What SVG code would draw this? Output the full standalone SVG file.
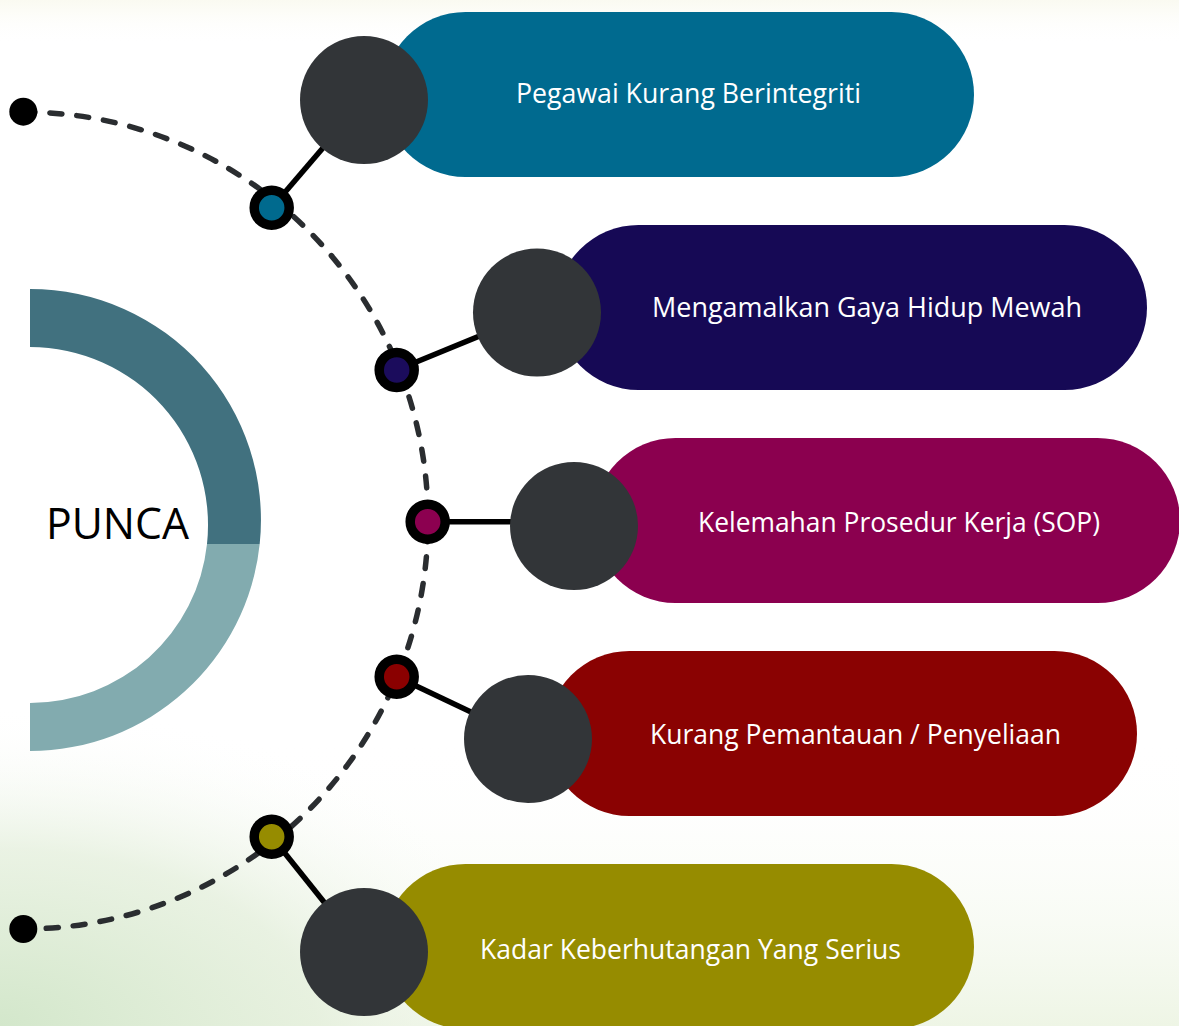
<svg xmlns="http://www.w3.org/2000/svg" width="1179" height="1026" viewBox="0 0 1179 1026">
  <defs>
    <linearGradient id="topband" x1="0" y1="0" x2="0" y2="1">
      <stop offset="0" stop-color="#fafaf1"/>
      <stop offset="1" stop-color="#ffffff" stop-opacity="0"/>
    </linearGradient>
    <linearGradient id="bottomband" x1="0" y1="0" x2="0" y2="1">
      <stop offset="0" stop-color="#ffffff" stop-opacity="0"/>
      <stop offset="1" stop-color="#eef5e5"/>
    </linearGradient>
    <radialGradient id="bl" cx="0" cy="1026" r="320" gradientUnits="userSpaceOnUse" gradientTransform="translate(0 1026) scale(1.8 1) translate(0 -1026)">
      <stop offset="0" stop-color="#d3e7cb"/>
      <stop offset="0.55" stop-color="#e4efdc" stop-opacity="0.75"/>
      <stop offset="1" stop-color="#ffffff" stop-opacity="0"/>
    </radialGradient>
    <style>
      .label { font-family: "Open Sans", "Noto Sans", "Liberation Sans", sans-serif; font-size: 27px; fill: #ffffff; }
      .big { fill: #323538; }
      .ring { stroke: #000000; stroke-width: 9.5; }
      .link { stroke: #000000; stroke-width: 5.5; fill: none; }
      .dash { stroke: #2a2d30; stroke-width: 5.5; fill: none; stroke-dasharray: 12 15; stroke-linecap: round; }
    </style>
  </defs>

  <g id="background">
    <rect x="0" y="0" width="1179" height="1026" fill="#ffffff"/>
    <rect x="0" y="0" width="1179" height="45" fill="url(#topband)"/>
    <rect x="0" y="740" width="1179" height="286" fill="url(#bottomband)"/>
    <rect x="0" y="0" width="1179" height="1026" fill="url(#bl)"/>
  </g>

  <g id="punca">
    <path d="M 30 289 A 231 231 0 0 1 259.7 544 L 207 544 A 178 178 0 0 0 30 347 Z" fill="#41717f"/>
    <path d="M 259.7 544 A 231 231 0 0 1 30 751 L 30 703 A 178 178 0 0 0 207 544 Z" fill="#82abaf"/>
    <text x="46" y="539" font-family="'Open Sans', 'Noto Sans', 'Liberation Sans', sans-serif" font-size="44" fill="#000000" textLength="143" lengthAdjust="spacingAndGlyphs">PUNCA</text>
  </g>

  <g id="pills">
    <g id="node-1">
      <rect x="383" y="12" width="591" height="165" rx="82.5" fill="#006a8f"/>
      <text class="label" x="516" y="103" textLength="345" lengthAdjust="spacingAndGlyphs">Pegawai Kurang Berintegriti</text>
    </g>
    <g id="node-2">
      <rect x="556" y="225" width="591" height="165" rx="82.5" fill="#160955"/>
      <text class="label" x="652" y="317" textLength="430" lengthAdjust="spacingAndGlyphs">Mengamalkan Gaya Hidup Mewah</text>
    </g>
    <g id="node-3">
      <rect x="593" y="438" width="587" height="165" rx="82.5" fill="#8b004f"/>
      <text class="label" x="698" y="532" textLength="402" lengthAdjust="spacingAndGlyphs">Kelemahan Prosedur Kerja (SOP)</text>
    </g>
    <g id="node-4">
      <rect x="547" y="651" width="590" height="165" rx="82.5" fill="#8a0202"/>
      <text class="label" x="650" y="744" textLength="411" lengthAdjust="spacingAndGlyphs">Kurang Pemantauan / Penyeliaan</text>
    </g>
    <g id="node-5">
      <rect x="383" y="864" width="591" height="165" rx="82.5" fill="#968c00"/>
      <text class="label" x="480" y="959" textLength="421" lengthAdjust="spacingAndGlyphs">Kadar Keberhutangan Yang Serius</text>
    </g>
  </g>

  <g id="connectors">
    <path class="dash" d="M 23 112 A 405 408.5 0 0 1 23 929"/>
    <line class="link" x1="271.7" y1="207.7" x2="364" y2="100"/>
    <line class="link" x1="396.7" y1="370" x2="537" y2="312.5"/>
    <line class="link" x1="427.7" y1="521.7" x2="530" y2="521.7"/>
    <line class="link" x1="396.7" y1="676.7" x2="528" y2="739"/>
    <line class="link" x1="271.7" y1="836.7" x2="364" y2="952"/>
    <circle cx="23.3" cy="111.7" r="14" fill="#000000"/>
    <circle cx="23.3" cy="929" r="14" fill="#000000"/>
  </g>

  <g id="hubs">
    <circle id="hub-1" class="big" cx="364" cy="100" r="64"/>
    <circle id="hub-2" class="big" cx="537" cy="312.5" r="64"/>
    <circle id="hub-3" class="big" cx="574" cy="526" r="64"/>
    <circle id="hub-4" class="big" cx="528" cy="739" r="64"/>
    <circle id="hub-5" class="big" cx="364" cy="952" r="64"/>
  </g>

  <g id="rings">
    <circle id="ring-1" class="ring" cx="271.7" cy="207.7" r="17.5" fill="#006a8e"/>
    <circle id="ring-2" class="ring" cx="396.7" cy="370" r="17.5" fill="#1b0c5c"/>
    <circle id="ring-3" class="ring" cx="427.7" cy="521.7" r="17.5" fill="#8c0050"/>
    <circle id="ring-4" class="ring" cx="396.7" cy="676.7" r="17.5" fill="#8a0000"/>
    <circle id="ring-5" class="ring" cx="271.7" cy="836.7" r="17.5" fill="#968c00"/>
  </g>
</svg>
